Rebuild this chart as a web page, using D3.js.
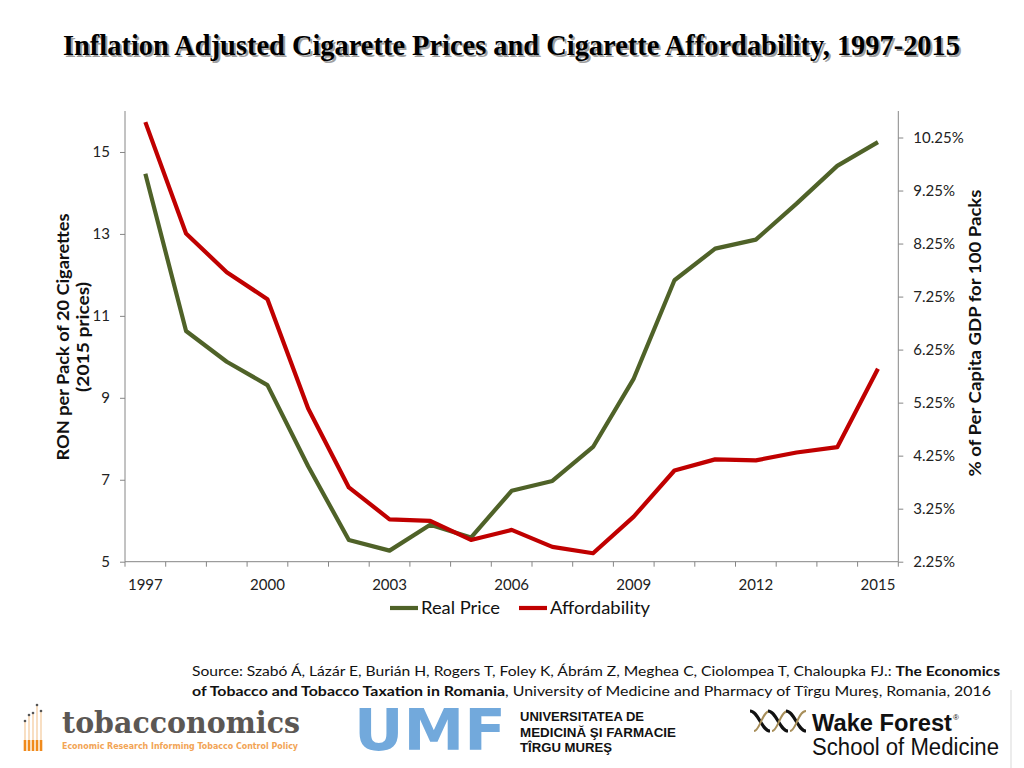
<!DOCTYPE html>
<html>
<head>
<meta charset="utf-8">
<script src="https://cdn.jsdelivr.net/npm/d3@7/dist/d3.min.js"></script>
<style>
  html, body { margin: 0; padding: 0; background: #fff; }
  svg { display: block; }
</style>
</head>
<body>
<svg id="chart" width="1024" height="768"></svg>
<script>
// ---------- DATA ----------
const years = [1997,1998,1999,2000,2001,2002,2003,2004,2005,2006,2007,2008,2009,2010,2011,2012,2013,2014,2015];
const realPrice = [14.47,10.63,9.88,9.31,7.33,5.53,5.27,5.90,5.59,6.73,6.97,7.80,9.47,11.87,12.64,12.86,13.74,14.66,15.24];
const affordability = [10.54,8.44,7.71,7.20,5.14,3.65,3.05,3.02,2.66,2.85,2.53,2.41,3.10,3.97,4.18,4.16,4.31,4.41,5.89];
const xTickLabels = [1997,2000,2003,2006,2009,2012,2015];
const leftTicks = [5,7,9,11,13,15];
const rightTicks = [2.25,3.25,4.25,5.25,6.25,7.25,8.25,9.25,10.25];
const seriesNames = ["Real Price","Affordability"];
const titleText = "Inflation Adjusted Cigarette Prices and Cigarette Affordability, 1997-2015";
const leftTitle = ["RON per Pack of 20 Cigarettes","(2015 prices)"];
const rightTitle = "% of Per Capita GDP for 100 Packs";

// ---------- LAYOUT ----------
const svg = d3.select("#chart");
const plot = {left:125, right:898.3, top:111, bottom:561.7};
const green = "#4F6228", red = "#C00000", axisCol = "#868686";
const labelFont = "Lato, 'Open Sans', sans-serif";

const x = d3.scaleBand().domain(years).range([plot.left, plot.right]).paddingInner(0).paddingOuter(0);
const yL = d3.scaleLinear().domain([5,16]).range([plot.bottom, plot.top]);
const yR = d3.scaleLinear().domain([2.25,10.75]).range([plot.bottom, plot.top]);
const cx = d => x(d) + x.bandwidth()/2;

// Title with shadow
const tg = svg.append("g");
[["#a0a0a0",2,2],["#000",0,0]].forEach(([c,dx,dy]) => {
  tg.append("text").attr("x",63+dx).attr("y",55+dy)
    .attr("textLength",897).attr("lengthAdjust","spacingAndGlyphs")
    .style("font-family","'Liberation Serif','Times New Roman',serif")
    .style("font-weight","bold").style("font-size","29px").attr("fill",c)
    .text(titleText);
});

// Left axis
const gL = svg.append("g").attr("transform",`translate(${plot.left},0)`)
  .call(d3.axisLeft(yL).tickValues(leftTicks).tickSize(5).tickPadding(10).tickFormat(d3.format("d")));
// Right axis
const gR = svg.append("g").attr("transform",`translate(${plot.right},0)`)
  .call(d3.axisRight(yR).tickValues(rightTicks).tickSize(5).tickPadding(10).tickFormat(d => d.toFixed(2)+"%"));
[gL,gR].forEach(g => {
  g.select(".domain").attr("stroke",axisCol).attr("d", null);
  g.selectAll(".tick line").attr("stroke",axisCol);
  g.selectAll(".tick text").attr("fill","#222").style("font-family",labelFont).style("font-size","15px");
});
gL.select(".domain").remove(); gR.select(".domain").remove();
svg.append("line").attr("x1",plot.left).attr("x2",plot.left).attr("y1",plot.top).attr("y2",plot.bottom).attr("stroke",axisCol);
svg.append("line").attr("x1",plot.right).attr("x2",plot.right).attr("y1",plot.top).attr("y2",plot.bottom).attr("stroke",axisCol);

// X axis (category axis with ticks at boundaries)
const gX = svg.append("g");
gX.append("line").attr("x1",plot.left).attr("x2",plot.right).attr("y1",plot.bottom).attr("y2",plot.bottom).attr("stroke",axisCol);
const bounds = years.map(d => x(d)).concat([x(years[years.length-1]) + x.bandwidth()]);
gX.selectAll("line.tk").data(bounds).join("line").attr("class","tk")
  .attr("x1",d=>d).attr("x2",d=>d).attr("y1",plot.bottom).attr("y2",plot.bottom+5).attr("stroke",axisCol);
gX.selectAll("text").data(xTickLabels).join("text")
  .attr("x",d=>cx(d)).attr("y",plot.bottom+28).attr("text-anchor","middle")
  .attr("fill","#222").style("font-family",labelFont).style("font-size","15px").text(d=>d);

// Axis titles
const lt = svg.append("g").attr("transform","translate(69,337) rotate(-90)");
leftTitle.forEach((t,i) => {
  lt.append("text").attr("x",0).attr("y",i*20).attr("text-anchor","middle")
    .style("font-family",labelFont).style("font-weight","bold").style("font-size","17px").attr("fill","#111")
    .attr("textLength", i===0 ? 247 : 110).attr("lengthAdjust","spacingAndGlyphs").text(t);
});
svg.append("text").attr("transform","translate(981,333) rotate(-90)").attr("text-anchor","middle")
  .style("font-family",labelFont).style("font-weight","bold").style("font-size","17px").attr("fill","#111")
  .attr("textLength",287).attr("lengthAdjust","spacingAndGlyphs").text(rightTitle);

// Lines
const lineL = d3.line().x((d,i)=>cx(years[i])).y(d=>yL(d));
const lineR = d3.line().x((d,i)=>cx(years[i])).y(d=>yR(d));
svg.append("path").attr("d",lineL(realPrice)).attr("fill","none").attr("stroke",green)
  .attr("stroke-width",4.2).attr("stroke-linejoin","round");
svg.append("path").attr("d",lineR(affordability)).attr("fill","none").attr("stroke",red)
  .attr("stroke-width",4.2).attr("stroke-linejoin","round");

// Legend
const leg = [{n:seriesNames[0],c:green,x:390,w:79},{n:seriesNames[1],c:red,x:519,w:100}];
leg.forEach(l => {
  svg.append("line").attr("x1",l.x).attr("x2",l.x+28).attr("y1",608).attr("y2",608).attr("stroke",l.c).attr("stroke-width",4.2);
  svg.append("text").attr("x",l.x+31).attr("y",614).style("font-family",labelFont).style("font-size","17px")
    .attr("fill","#111").attr("textLength",l.w).attr("lengthAdjust","spacingAndGlyphs").text(l.n);
});

// Source
const srcFont = "Lato, 'Open Sans', sans-serif";
const s1 = svg.append("text").attr("x",192).attr("y",676).style("font-family",srcFont).style("font-size","13.5px")
  .attr("fill","#111").attr("textLength",808).attr("lengthAdjust","spacingAndGlyphs");
s1.append("tspan").text("Source: Szabó Á, Lázár E, Burián H, Rogers T, Foley K, Ábrám Z, Meghea C, Ciolompea T, Chaloupka FJ.: ");
s1.append("tspan").style("font-weight","bold").text("The Economics");
const s2 = svg.append("text").attr("x",192).attr("y",696).style("font-family",srcFont).style("font-size","13.5px")
  .attr("fill","#111").attr("textLength",799).attr("lengthAdjust","spacingAndGlyphs");
s2.append("tspan").style("font-weight","bold").text("of Tobacco and Tobacco Taxation in Romania");
s2.append("tspan").text(", University of Medicine and Pharmacy of Tîrgu Mureş, Romania, 2016");

// ---------- LOGOS ----------
// tobacconomics
const tob = svg.append("g");
const barsX = [25,29,33,37,41], barsTop = [722,716,714,706,712];
barsX.forEach((bx,i) => {
  tob.append("line").attr("x1",bx).attr("x2",bx).attr("y1",barsTop[i]).attr("y2",740).attr("stroke","#f4c99a").attr("stroke-width",1.2);
  tob.append("circle").attr("cx",bx).attr("cy",barsTop[i]-1).attr("r",1.3).attr("fill","#555");
  tob.append("rect").attr("x",bx-1.3).attr("y",740).attr("width",2.6).attr("height",11).attr("fill","#f08a1c");
});
tob.append("text").attr("x",62).attr("y",733).attr("textLength",238).attr("lengthAdjust","spacingAndGlyphs")
  .style("font-family","'DejaVu Serif',serif").style("font-weight","bold").style("font-size","29px").attr("fill","#5b5754").text("tobacconomics");
tob.append("text").attr("x",62).attr("y",749).attr("textLength",236).attr("lengthAdjust","spacingAndGlyphs")
  .style("font-family","'DejaVu Sans',sans-serif").style("font-weight","bold").style("font-size","9.5px").attr("fill","#f2a455")
  .text("Economic Research Informing Tobacco Control Policy");

// UMF
const umf = svg.append("g");
umf.append("text").attr("x",354).attr("y",750).attr("textLength",152).attr("lengthAdjust","spacingAndGlyphs")
  .style("font-family","'DejaVu Sans',sans-serif").style("font-weight","bold").style("font-size","57px").attr("fill","#72a9dc").text("UMF");
["UNIVERSITATEA DE","MEDICINĂ ŞI FARMACIE","TÎRGU MUREŞ"].forEach((t,i) => {
  const w = [124,156,92][i];
  umf.append("text").attr("x",520).attr("y",721+i*15.5).attr("textLength",w).attr("lengthAdjust","spacingAndGlyphs")
    .style("font-family","'Liberation Sans',Arial,sans-serif").style("font-weight","bold").style("font-size","13.5px").attr("fill","#111").text(t);
});

// Wake Forest
const wf = svg.append("g");
for (let k=0;k<3;k++){
  const ox = 750 + k*18;
  wf.append("path").attr("d",`M${ox},711 C${ox+8},711 ${ox+12},731 ${ox+20},731`).attr("fill","none").attr("stroke","#111").attr("stroke-width",3.2);
  wf.append("path").attr("d",`M${ox+4},731 C${ox+10},731 ${ox+12},711 ${ox+20},711`).attr("fill","none").attr("stroke","#a88f5a").attr("stroke-width",2);
}
wf.append("text").attr("x",812).attr("y",731).attr("textLength",140).attr("lengthAdjust","spacingAndGlyphs")
  .style("font-family","'Liberation Sans',Arial,sans-serif").style("font-weight","bold").style("font-size","23px").attr("fill","#111").text("Wake Forest");
wf.append("text").attr("x",953).attr("y",720).style("font-family","'Liberation Sans',Arial,sans-serif").style("font-size","8px").attr("fill","#111").text("®");
wf.append("text").attr("x",812).attr("y",755).attr("textLength",187).attr("lengthAdjust","spacingAndGlyphs")
  .style("font-family","'Liberation Sans',Arial,sans-serif").style("font-size","23px").attr("fill","#111").text("School of Medicine");
svg.append("line").attr("x1",1011).attr("x2",1011).attr("y1",690).attr("y2",768).attr("stroke","#e6e6e6").attr("stroke-width",1.5);
</script>
</body>
</html>
